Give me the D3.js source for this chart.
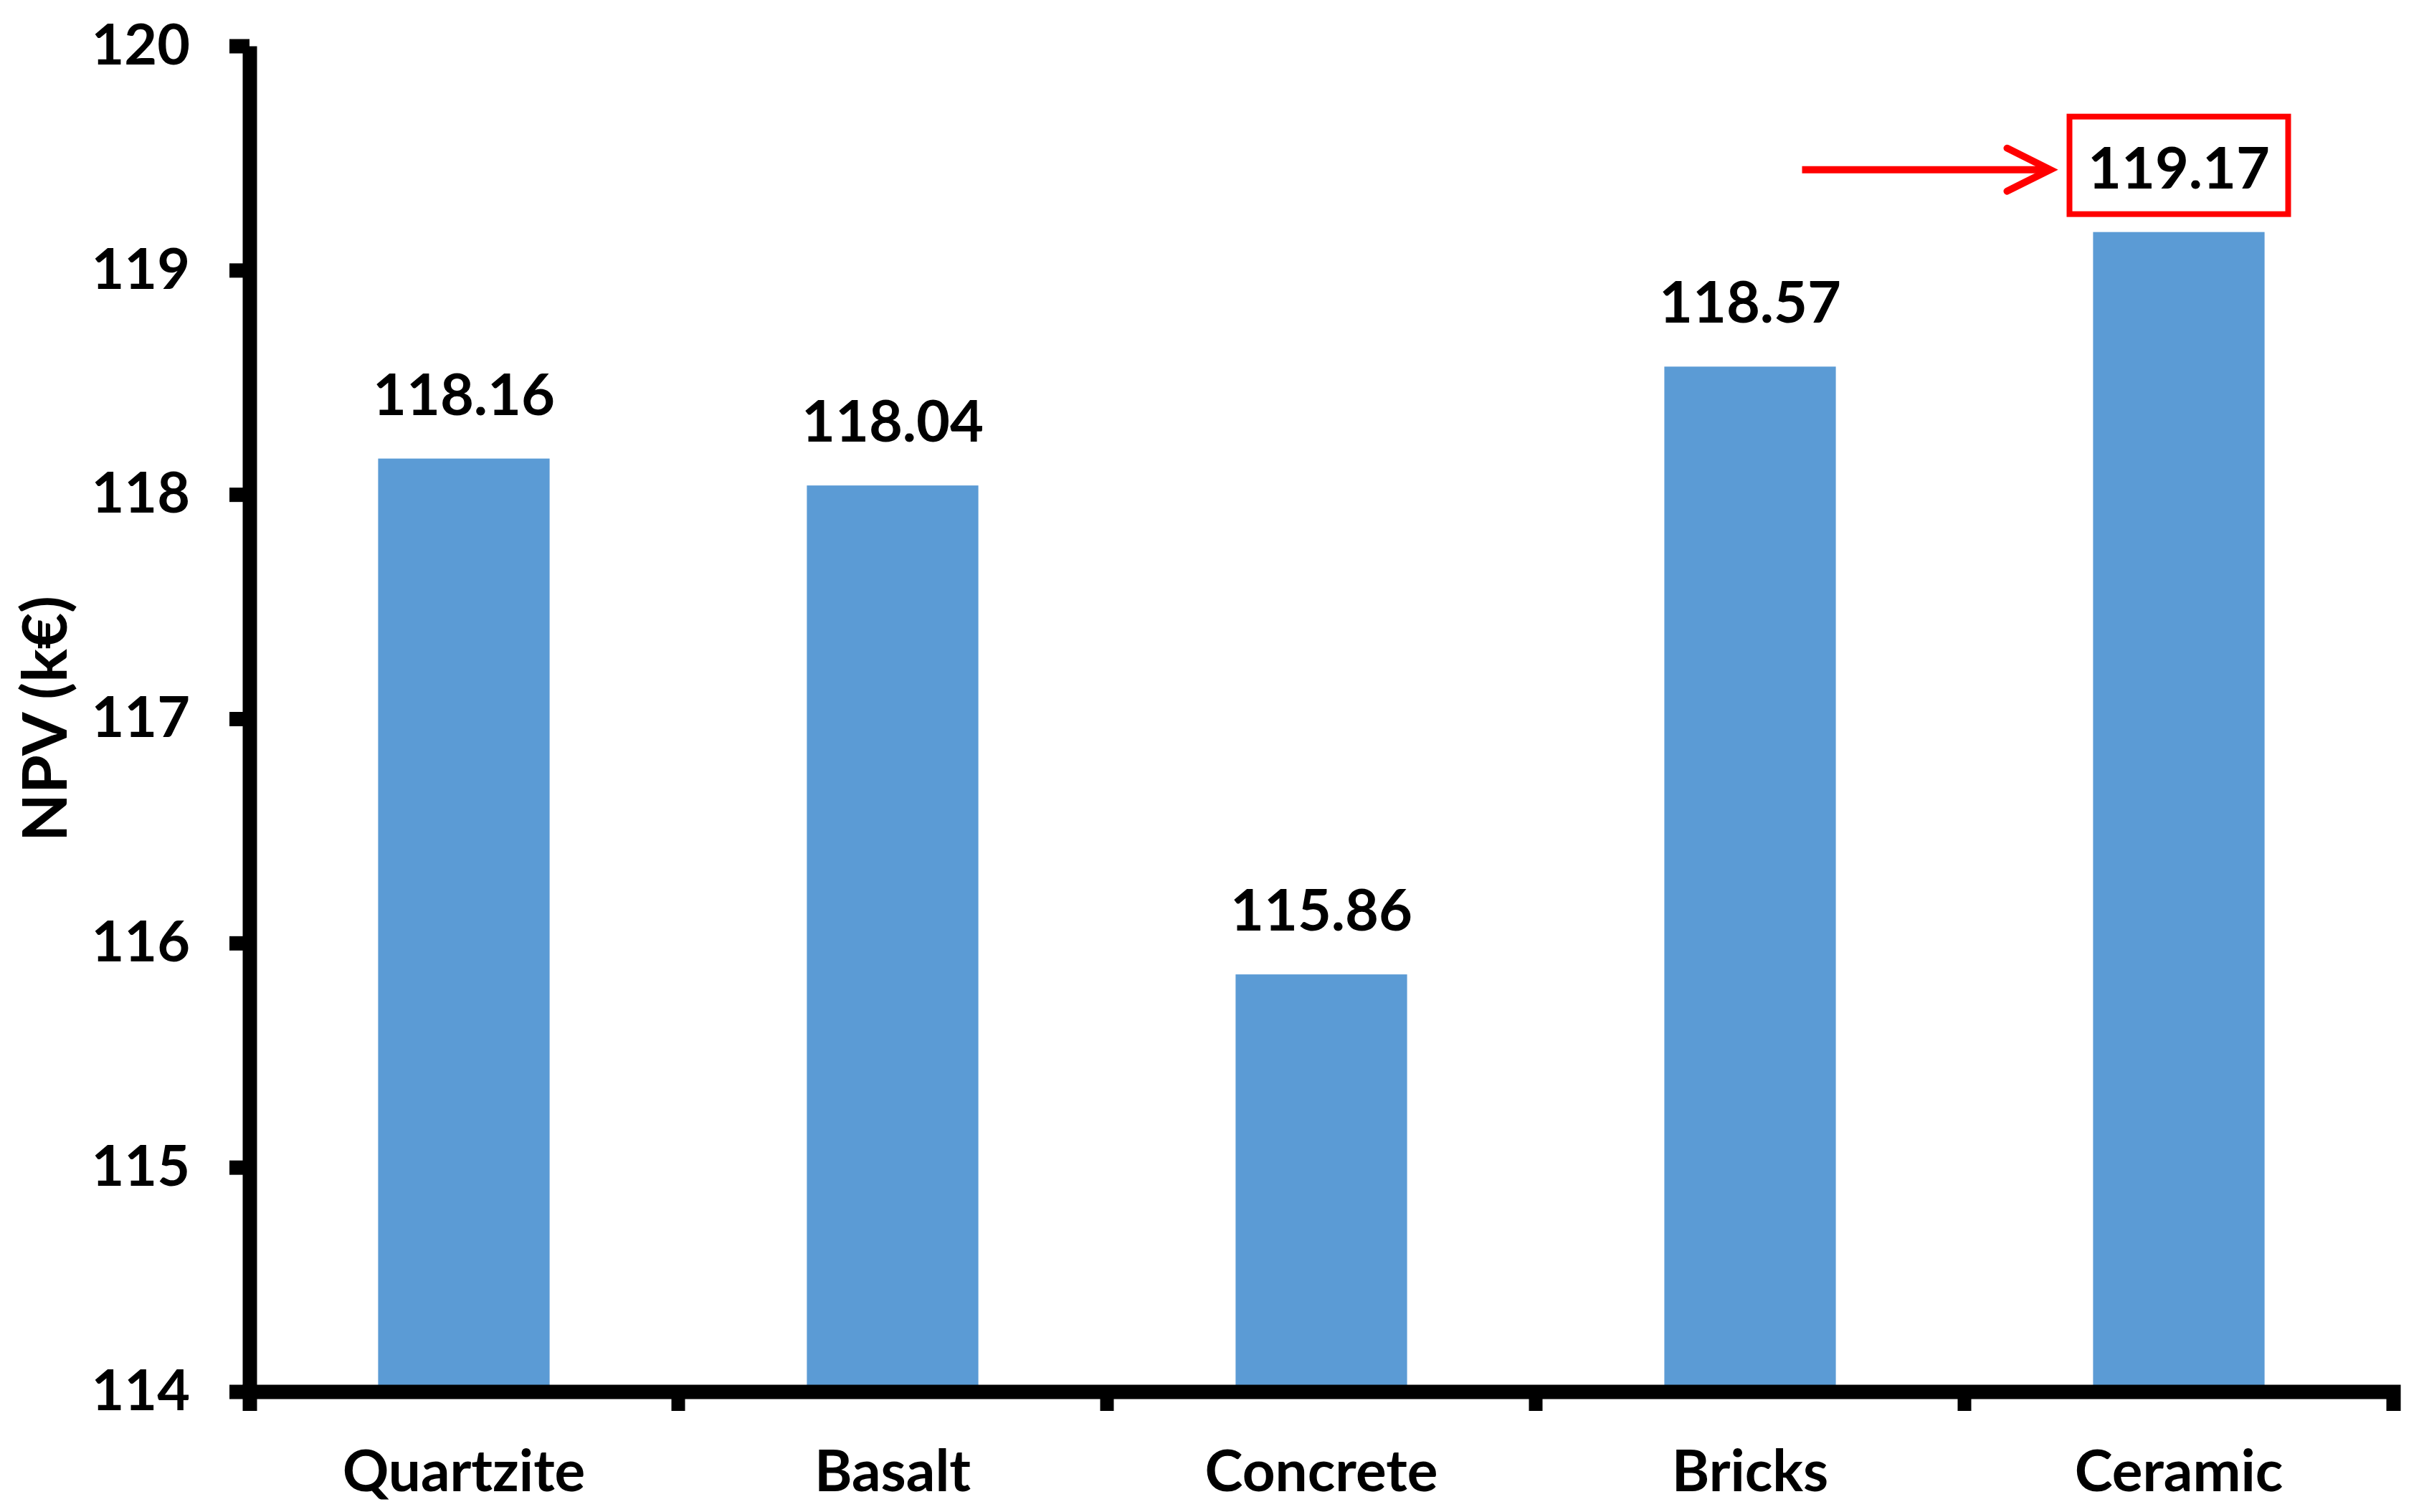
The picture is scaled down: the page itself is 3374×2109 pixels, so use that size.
<!DOCTYPE html>
<html>
<head>
<meta charset="utf-8">
<script src="https://cdn.jsdelivr.net/npm/d3@7"></script>
<style>
  body { margin: 0; background: #fff; }
  svg { display: block; }
  text { font-family: Lato, "Open Sans", sans-serif; font-weight: 700; fill: #000; }
</style>
</head>
<body>
<div id="container"></div>
<script>
// data
var categories = ["Quartzite", "Basalt", "Concrete", "Bricks", "Ceramic"];
var npv = [118.16, 118.04, 115.86, 118.57, 119.17];
var yTicks = [114, 115, 116, 117, 118, 119, 120];
var highlight = "Ceramic";
var yTitle = "NPV (k\u20ac)";

var data = categories.map(function(c, i) { return {cat: c, value: npv[i]}; });

//--------------------------- SVG ---------------------------//
const width = 3374;
const height = 2109;
const plotLeft = 348, plotRight = 3338, plotTop = 64, plotBottom = 1941;

const svg = d3.select("div#container").append("svg")
    .attr("width", width)
    .attr("height", height);

//-------------------------- SCALES -------------------------//
const xScale = d3.scaleBand()
    .domain(categories)
    .range([plotLeft, plotRight])
    .paddingInner(0.6)
    .paddingOuter(0.3);

const yScale = d3.scaleLinear()
    .domain([114, 120])
    .range([plotBottom, plotTop]);

//--------------------------- BARS --------------------------//
svg.append("g").selectAll("rect")
    .data(data)
    .enter()
    .append("rect")
    .attr("x", d => xScale(d.cat))
    .attr("y", d => yScale(d.value))
    .attr("width", xScale.bandwidth())
    .attr("height", d => yScale(114) - yScale(d.value))
    .attr("fill", "#5B9BD5");

//--------------------------- AXES --------------------------//
const yaxis = d3.axisLeft(yScale)
    .tickValues(yTicks)
    .tickFormat(d3.format("d"))
    .tickSizeInner(28)
    .tickSizeOuter(0);

const gy = svg.append("g")
    .attr("transform", "translate(" + plotLeft + ",0)")
    .call(yaxis);
gy.select(".domain").attr("stroke", "#000").attr("stroke-width", 20);
gy.selectAll(".tick line").attr("stroke", "#000").attr("stroke-width", 20);
gy.selectAll(".tick text")
    .attr("x", -83)
    .attr("font-size", 79)
    .attr("font-family", null)
    .attr("fill", "#000");

const xaxis = d3.axisBottom(xScale)
    .tickSizeInner(0)
    .tickSizeOuter(27);

const gx = svg.append("g")
    .attr("transform", "translate(0," + plotBottom + ")")
    .call(xaxis);
gx.select(".domain")
    .attr("stroke", "#000")
    .attr("stroke-width", 20)
    .attr("stroke-linejoin", "miter")
    .attr("fill", "none");
gx.selectAll(".tick text")
    .attr("y", 139)
    .attr("dy", 0)
    .attr("font-size", 80)
    .attr("font-family", null)
    .attr("fill", "#000");

// category boundary ticks
const gap = (xScale.step() - xScale.bandwidth()) / 2;
const bounds = categories.slice(1).map(c => xScale(c) - gap);
gx.selectAll(".bound")
    .data(bounds)
    .enter()
    .append("line")
    .attr("class", "bound")
    .attr("x1", d => d).attr("x2", d => d)
    .attr("y1", 10).attr("y2", 27)
    .attr("stroke", "#000")
    .attr("stroke-width", 19);

// y title
svg.append("text")
    .attr("transform", "translate(93," + ((plotTop + plotBottom) / 2) + ") rotate(-90)")
    .attr("text-anchor", "middle")
    .attr("font-size", 87)
    .text(yTitle);

//-------------------------- LABELS -------------------------//
const labelY = d => yScale(d.value) - 61;
const labelX = d => xScale(d.cat) + xScale.bandwidth() / 2;

svg.append("g").selectAll("text")
    .data(data)
    .enter()
    .append("text")
    .attr("x", labelX)
    .attr("y", labelY)
    .attr("text-anchor", "middle")
    .attr("font-size", 81)
    .text(d => d.value.toFixed(2));

//------------------------ ANNOTATION -----------------------//
const hd = data.find(d => d.cat === highlight);
const bx = labelX(hd), by = labelY(hd);
const ann = svg.append("g")
    .attr("stroke", "#FF0000")
    .attr("fill", "none");

ann.append("rect")
    .attr("x", bx - 152.5)
    .attr("y", by - 100)
    .attr("width", 305)
    .attr("height", 136)
    .attr("stroke-width", 8);

const ax = bx - 152.5 - 27, ay = by - 26;
ann.append("path")
    .attr("d", "M" + (ax - 346) + "," + ay + "H" + (ax - 4))
    .attr("stroke-width", 10);
ann.append("path")
    .attr("d", "M" + (ax - 60) + "," + (ay - 30) + "L" + ax + "," + ay + "L" + (ax - 60) + "," + (ay + 30))
    .attr("stroke-width", 10)
    .attr("stroke-linecap", "round")
    .attr("stroke-linejoin", "miter");
</script>
</body>
</html>
